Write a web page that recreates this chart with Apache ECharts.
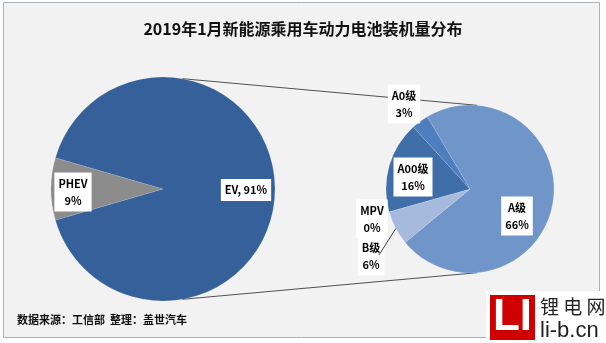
<!DOCTYPE html>
<html>
<head>
<meta charset="utf-8">
<script src="https://cdn.jsdelivr.net/npm/echarts@6/dist/echarts.min.js"></script>
<style>
html,body{margin:0;padding:0;background:#ffffff;}
#chart{width:606px;height:343px;}
</style>
</head>
<body>
<div id="chart"></div>
<script>
// ---- data ----
var titleText = '2019年1月新能源乘用车动力电池装机量分布';
var sourceText = '数据来源：工信部  整理：盖世汽车';
var mainCategories = ['PHEV', 'EV'];
var mainValues = [9, 91];
var evCategories = ['A级', 'B级', 'MPV', 'A00级', 'A0级'];
var evValues = [66, 6, 0, 16, 3];

// ---- layout ----
var bigC = [163, 189], bigR = 112;
var smallC = [470, 189], smallR = 84;
var mainLabelPos = [[73, 192], [246, 190]];
var evLabelPos = [[517, 216], [371, 256], [372, 219], [413, 177], [404, 104]];
var mainColors = ['#8c8c8c', '#35609a'];
var evColors = ['#7096c9', '#a5badc', '#8aa6d2', '#3f6ea8', '#4d7fbe'];

function pt(c, r, deg) {
  var a = deg * Math.PI / 180;
  return [c[0] + r * Math.cos(a), c[1] - r * Math.sin(a)];
}

var labelBase = {
  color: '#000',
  fontSize: 11,
  fontWeight: 'bold',
  fontFamily: '"Noto Sans CJK SC", "Open Sans", sans-serif',
  backgroundColor: '#ffffff',
  padding: [3, 4, 2, 4],
  lineHeight: 17,
  overflow: 'none'
};

var mainData = mainCategories.map(function (n, i) {
  return {
    name: n, value: mainValues[i],
    itemStyle: { color: mainColors[i] },
    label: { formatter: n === 'EV' ? '{b}, {c}%' : '{b}\n{c}%' }
  };
});
var evData = evCategories.map(function (n, i) {
  return {
    name: n, value: evValues[i],
    itemStyle: { color: evColors[i] }
  };
});

var top1 = pt(bigC, bigR, 80), top2 = pt(smallC, smallR, 85);
var bot1 = pt(bigC, bigR, -80), bot2 = pt(smallC, smallR, -85);
var bEdge = pt(smallC, smallR, 208);
var bLab = evLabelPos[1];

var chart = echarts.init(document.getElementById('chart'), null, { renderer: 'canvas' });
chart.setOption({
  backgroundColor: '#ffffff',
  animation: false,
  title: {
    text: titleText,
    left: 'center',
    top: 16,
    textStyle: { fontSize: 16, fontWeight: 'bold', color: '#111',
      fontFamily: '"Noto Sans CJK SC", sans-serif' }
  },
  graphic: [
    { type: 'rect', z: -10, shape: { x: 3.5, y: 2.5, width: 596, height: 335 },
      style: { fill: '#f2f2f2', stroke: '#a8b0b8', lineWidth: 1 } },
    { type: 'line', z: 1, shape: { x1: top1[0], y1: top1[1], x2: top2[0], y2: top2[1] },
      style: { stroke: '#505050', lineWidth: 1 } },
    { type: 'line', z: 1, shape: { x1: bot1[0], y1: bot1[1], x2: bot2[0], y2: bot2[1] },
      style: { stroke: '#505050', lineWidth: 1 } },
    { type: 'polyline', z: 100,
      shape: { points: [[bEdge[0], bEdge[1]], [bLab[0] + 8, bLab[1] - 1]] },
      style: { stroke: '#404040', lineWidth: 1, fill: null } },
    { type: 'text', left: 17, top: 314, z: 10,
      style: { text: sourceText, fontSize: 11, fontWeight: 'bold', fill: '#111',
        fontFamily: '"Noto Sans CJK SC", sans-serif' } },
    { type: 'rect', z: 20, shape: { x: 486, y: 291, width: 120, height: 52 }, style: { fill: '#ffffff' } },
    { type: 'rect', z: 21, shape: { x: 490, y: 295, width: 45, height: 45 }, style: { fill: '#d00000' } },
    { type: 'text', z: 22, x: 512.5, y: 318,
      style: { text: 'LI', fill: '#ffffff', fontSize: 44, fontWeight: 'bold',
        fontFamily: '"Liberation Sans", Arial, sans-serif', align: 'center', verticalAlign: 'middle' } },
    { type: 'text', z: 22, x: 540, y: 307,
      style: { text: '锂 电 网', fill: '#222', fontSize: 19,
        fontFamily: '"Noto Sans CJK SC", sans-serif', verticalAlign: 'middle' } },
    { type: 'text', z: 22, x: 540, y: 331,
      style: { text: 'li-b.cn', fill: '#222', fontSize: 22,
        fontFamily: '"Liberation Sans", Arial, sans-serif', verticalAlign: 'middle' } }
  ],
  series: [
    {
      type: 'pie',
      center: bigC,
      radius: bigR,
      startAngle: 180 + 360 * mainValues[0] / 200,
      clockwise: true,
      z: 2,
      label: Object.assign({ position: 'inside' }, labelBase),
      labelLine: { show: false },
      itemStyle: { borderColor: 'rgba(255,255,255,0.25)', borderWidth: 0.5 },
      labelLayout: function (p) {
        var q = mainLabelPos[p.dataIndex];
        return { x: q[0], y: q[1], align: 'center', verticalAlign: 'middle' };
      },
      data: mainData
    },
    {
      type: 'pie',
      center: smallC,
      radius: smallR,
      startAngle: 120.6,
      clockwise: true,
      z: 3,
      avoidLabelOverlap: false,
      label: Object.assign({ position: 'inside', formatter: '{b}\n{c}%' }, labelBase),
      labelLine: { show: false },
      itemStyle: { borderColor: 'rgba(255,255,255,0.25)', borderWidth: 0.5 },
      labelLayout: function (p) {
        var q = evLabelPos[p.dataIndex];
        return { x: q[0], y: q[1], align: 'center', verticalAlign: 'middle' };
      },
      data: evData
    }
  ]
});
</script>
</body>
</html>
